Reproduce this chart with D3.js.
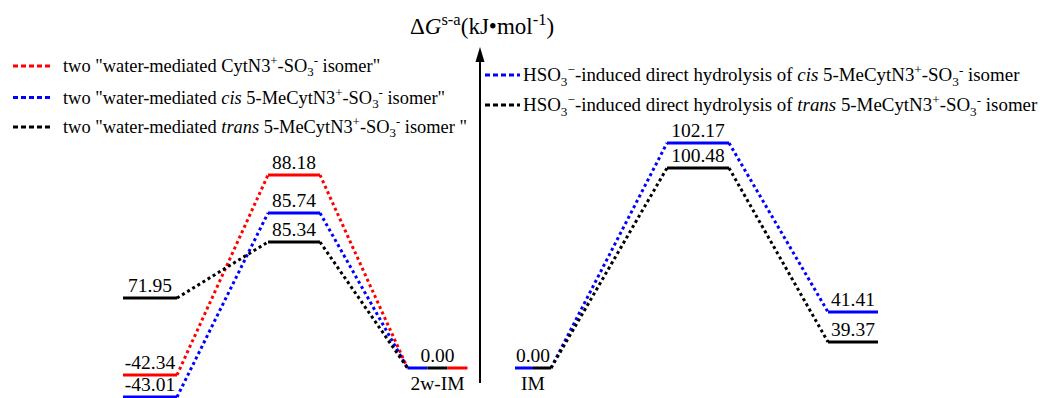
<!DOCTYPE html>
<html lang="en">
<head>
    <meta charset="UTF-8">
    <title>Energy profile</title>
    <script src="https://cdn.jsdelivr.net/npm/d3@7/dist/d3.min.js"></script>
    <style>
        body { margin: 0; background: #fff; }
        svg text { font-family: "Liberation Serif", "Times New Roman", serif; fill: #000; }
    </style>
</head>
<body>
<script>
    // stages along the reaction coordinate
    const stages = ['R', 'TS1', '2w-IM', 'IM', 'TS2', 'P'];
    const stageNames = ['', '', '2w-IM', 'IM', '', ''];

    // relative free energies (kJ/mol) per pathway
    const cytWaterValues = [-42.34, 88.18, 0.00];
    const cisWaterValues = [-43.01, 85.74, 0.00];
    const transWaterValues = [71.95, 85.34, 0.00];
    const cisDirectValues = [0.00, 102.17, 41.41];
    const transDirectValues = [0.00, 100.48, 39.37];

    const seriesKeys = ['cytW', 'cisW', 'transW', 'cisD', 'transD'];
    const seriesColors = ['#ff0000', '#0000ff', '#000000', '#0000ff', '#000000'];
    const seriesStart = [0, 0, 0, 3, 3];
    const seriesValues = [cytWaterValues, cisWaterValues, transWaterValues, cisDirectValues, transDirectValues];
    // left-to-right order when pathways share one level
    const splitOrder = ['cisW', 'transW', 'cytW', 'cisD', 'transD'];

    // legend texts: [text, style]
    const legendLeft = [
        [['two "water-mediated CytN3'], ['+', 'sup'], ['-SO'], ['3', 'sub'], ['-', 'sup'], [' isomer"']],
        [['two "water-mediated '], ['cis', 'i'], [' 5-MeCytN3'], ['+', 'sup'], ['-SO'], ['3', 'sub'], ['-', 'sup'], [' isomer"']],
        [['two "water-mediated '], ['trans', 'i'], [' 5-MeCytN3'], ['+', 'sup'], ['-SO'], ['3', 'sub'], ['-', 'sup'], [' isomer "']]
    ];
    const legendRight = [
        [['HSO'], ['3', 'sub'], ['\u2212', 'sup'], ['-induced direct hydrolysis of '], ['cis', 'i'], [' 5-MeCytN3'], ['+', 'sup'], ['-SO'], ['3', 'sub'], ['-', 'sup'], [' isomer']],
        [['HSO'], ['3', 'sub'], ['\u2212', 'sup'], ['-induced direct hydrolysis of '], ['trans', 'i'], [' 5-MeCytN3'], ['+', 'sup'], ['-SO'], ['3', 'sub'], ['-', 'sup'], [' isomer']]
    ];
    const axisTitle = [['\u0394'], ['G', 'i'], ['s-a', 'sup'], ['(kJ\u2022mol'], ['-1', 'sup'], [')']];

    const w = 1049, h = 398;
    const svg = d3.select('body').append('svg').attr('width', w).attr('height', h);

    // schematic diagram: levels are ordered but not drawn to scale
    const allValues = Array.from(new Set(seriesValues.flat())).sort((a, b) => a - b);
    const yScale = d3.scaleLinear()
        .domain(allValues)
        .range([397, 375, 368, 342, 312, 298, 242, 213, 175, 168, 143]);
    const xScale = d3.scaleLinear()
        .domain(d3.range(stages.length))
        .range([150, 294, 437.5, 533, 698, 853]);
    const halfWidth = [27, 26, 30, 18, 31, 25];

    function rich(sel, parts, size, supScale) {
        let shift = 0;
        parts.forEach(p => {
            const kind = p[1];
            const target = kind === 'sup' ? -0.38 * size : kind === 'sub' ? 0.24 * size : 0;
            const ts = sel.append('tspan').text(p[0]).attr('dy', target - shift);
            if (kind === 'sup' || kind === 'sub') ts.attr('font-size', size * (supScale || 0.7));
            if (kind === 'i') ts.attr('font-style', 'italic');
            shift = target;
        });
    }

    // build the levels
    const levels = [];
    seriesValues.forEach((vals, si) => {
        vals.forEach((v, k) => {
            levels.push({ key: seriesKeys[si], color: seriesColors[si], stage: seriesStart[si] + k, value: v });
        });
    });
    const groups = d3.group(levels, d => d.stage + '|' + d.value);
    const segments = [];
    const labels = [];
    groups.forEach(g => {
        g.sort((a, b) => splitOrder.indexOf(a.key) - splitOrder.indexOf(b.key));
        const st = g[0].stage;
        const x0 = xScale(st) - halfWidth[st], x1 = xScale(st) + halfWidth[st];
        const step = (x1 - x0) / g.length;
        g.forEach((d, i) => segments.push({ x0: x0 + i * step, x1: x0 + (i + 1) * step, y: yScale(d.value), color: d.color }));
        labels.push({ x: xScale(st), y: yScale(g[0].value), value: g[0].value, stage: st });
    });

    // dotted connectors
    const connectors = [];
    seriesValues.forEach((vals, si) => {
        for (let k = 0; k < vals.length - 1; k++) {
            const a = seriesStart[si] + k, b = a + 1;
            connectors.push({
                x0: xScale(a) + halfWidth[a], y0: yScale(vals[k]),
                x1: xScale(b) - halfWidth[b], y1: yScale(vals[k + 1]),
                color: seriesColors[si]
            });
        }
    });

    svg.append('g').selectAll('line').data(connectors).enter().append('line')
        .attr('x1', d => d.x0).attr('y1', d => d.y0)
        .attr('x2', d => d.x1).attr('y2', d => d.y1)
        .attr('stroke', d => d.color).attr('stroke-width', 3)
        .attr('stroke-dasharray', '3,3');

    svg.append('g').selectAll('line').data(segments).enter().append('line')
        .attr('x1', d => d.x0).attr('x2', d => d.x1)
        .attr('y1', d => d.y).attr('y2', d => d.y)
        .attr('stroke', d => d.color).attr('stroke-width', 3);

    svg.append('g').selectAll('text').data(labels).enter().append('text')
        .attr('x', d => d.x).attr('y', d => d.y - 6)
        .attr('text-anchor', 'middle').attr('font-size', 19.5)
        .text(d => d.value.toFixed(2));

    svg.append('g').selectAll('text').data(stages.map((s, i) => i).filter(i => stageNames[i])).enter().append('text')
        .attr('x', i => xScale(i)).attr('y', i => yScale(0) + 22)
        .attr('text-anchor', 'middle').attr('font-size', 19.5)
        .text(i => stageNames[i]);

    // vertical energy axis with arrow
    svg.append('line').attr('x1', 480).attr('x2', 480).attr('y1', 383).attr('y2', 58)
        .attr('stroke', '#000').attr('stroke-width', 2);
    svg.append('path').attr('d', 'M480,47 L475.5,62 L484.5,62 Z').attr('fill', '#000');
    rich(svg.append('text').attr('x', 410).attr('y', 34).attr('font-size', 23), axisTitle, 23, 0.72);

    // legends
    const legL = svg.append('g').selectAll('g').data(legendLeft).enter().append('g')
        .attr('transform', (d, i) => 'translate(13,' + [66, 97.5, 127][i] + ')');
    legL.append('line').attr('x1', 0).attr('x2', 40)
        .attr('stroke', (d, i) => seriesColors[i]).attr('stroke-width', 3).attr('stroke-dasharray', '5,3');
    legL.append('text').attr('x', 50).attr('y', 6).attr('font-size', 18.4).each(function (d) { rich(d3.select(this), d, 18.4); });

    const legR = svg.append('g').selectAll('g').data(legendRight).enter().append('g')
        .attr('transform', (d, i) => 'translate(485,' + [75, 105][i] + ')');
    legR.append('line').attr('x1', 0).attr('x2', 35)
        .attr('stroke', (d, i) => seriesColors[i + 3]).attr('stroke-width', 3).attr('stroke-dasharray', '5,3');
    legR.append('text').attr('x', 38).attr('y', 6).attr('font-size', 18.9).each(function (d) { rich(d3.select(this), d, 18.9); });
</script>
</body>
</html>
